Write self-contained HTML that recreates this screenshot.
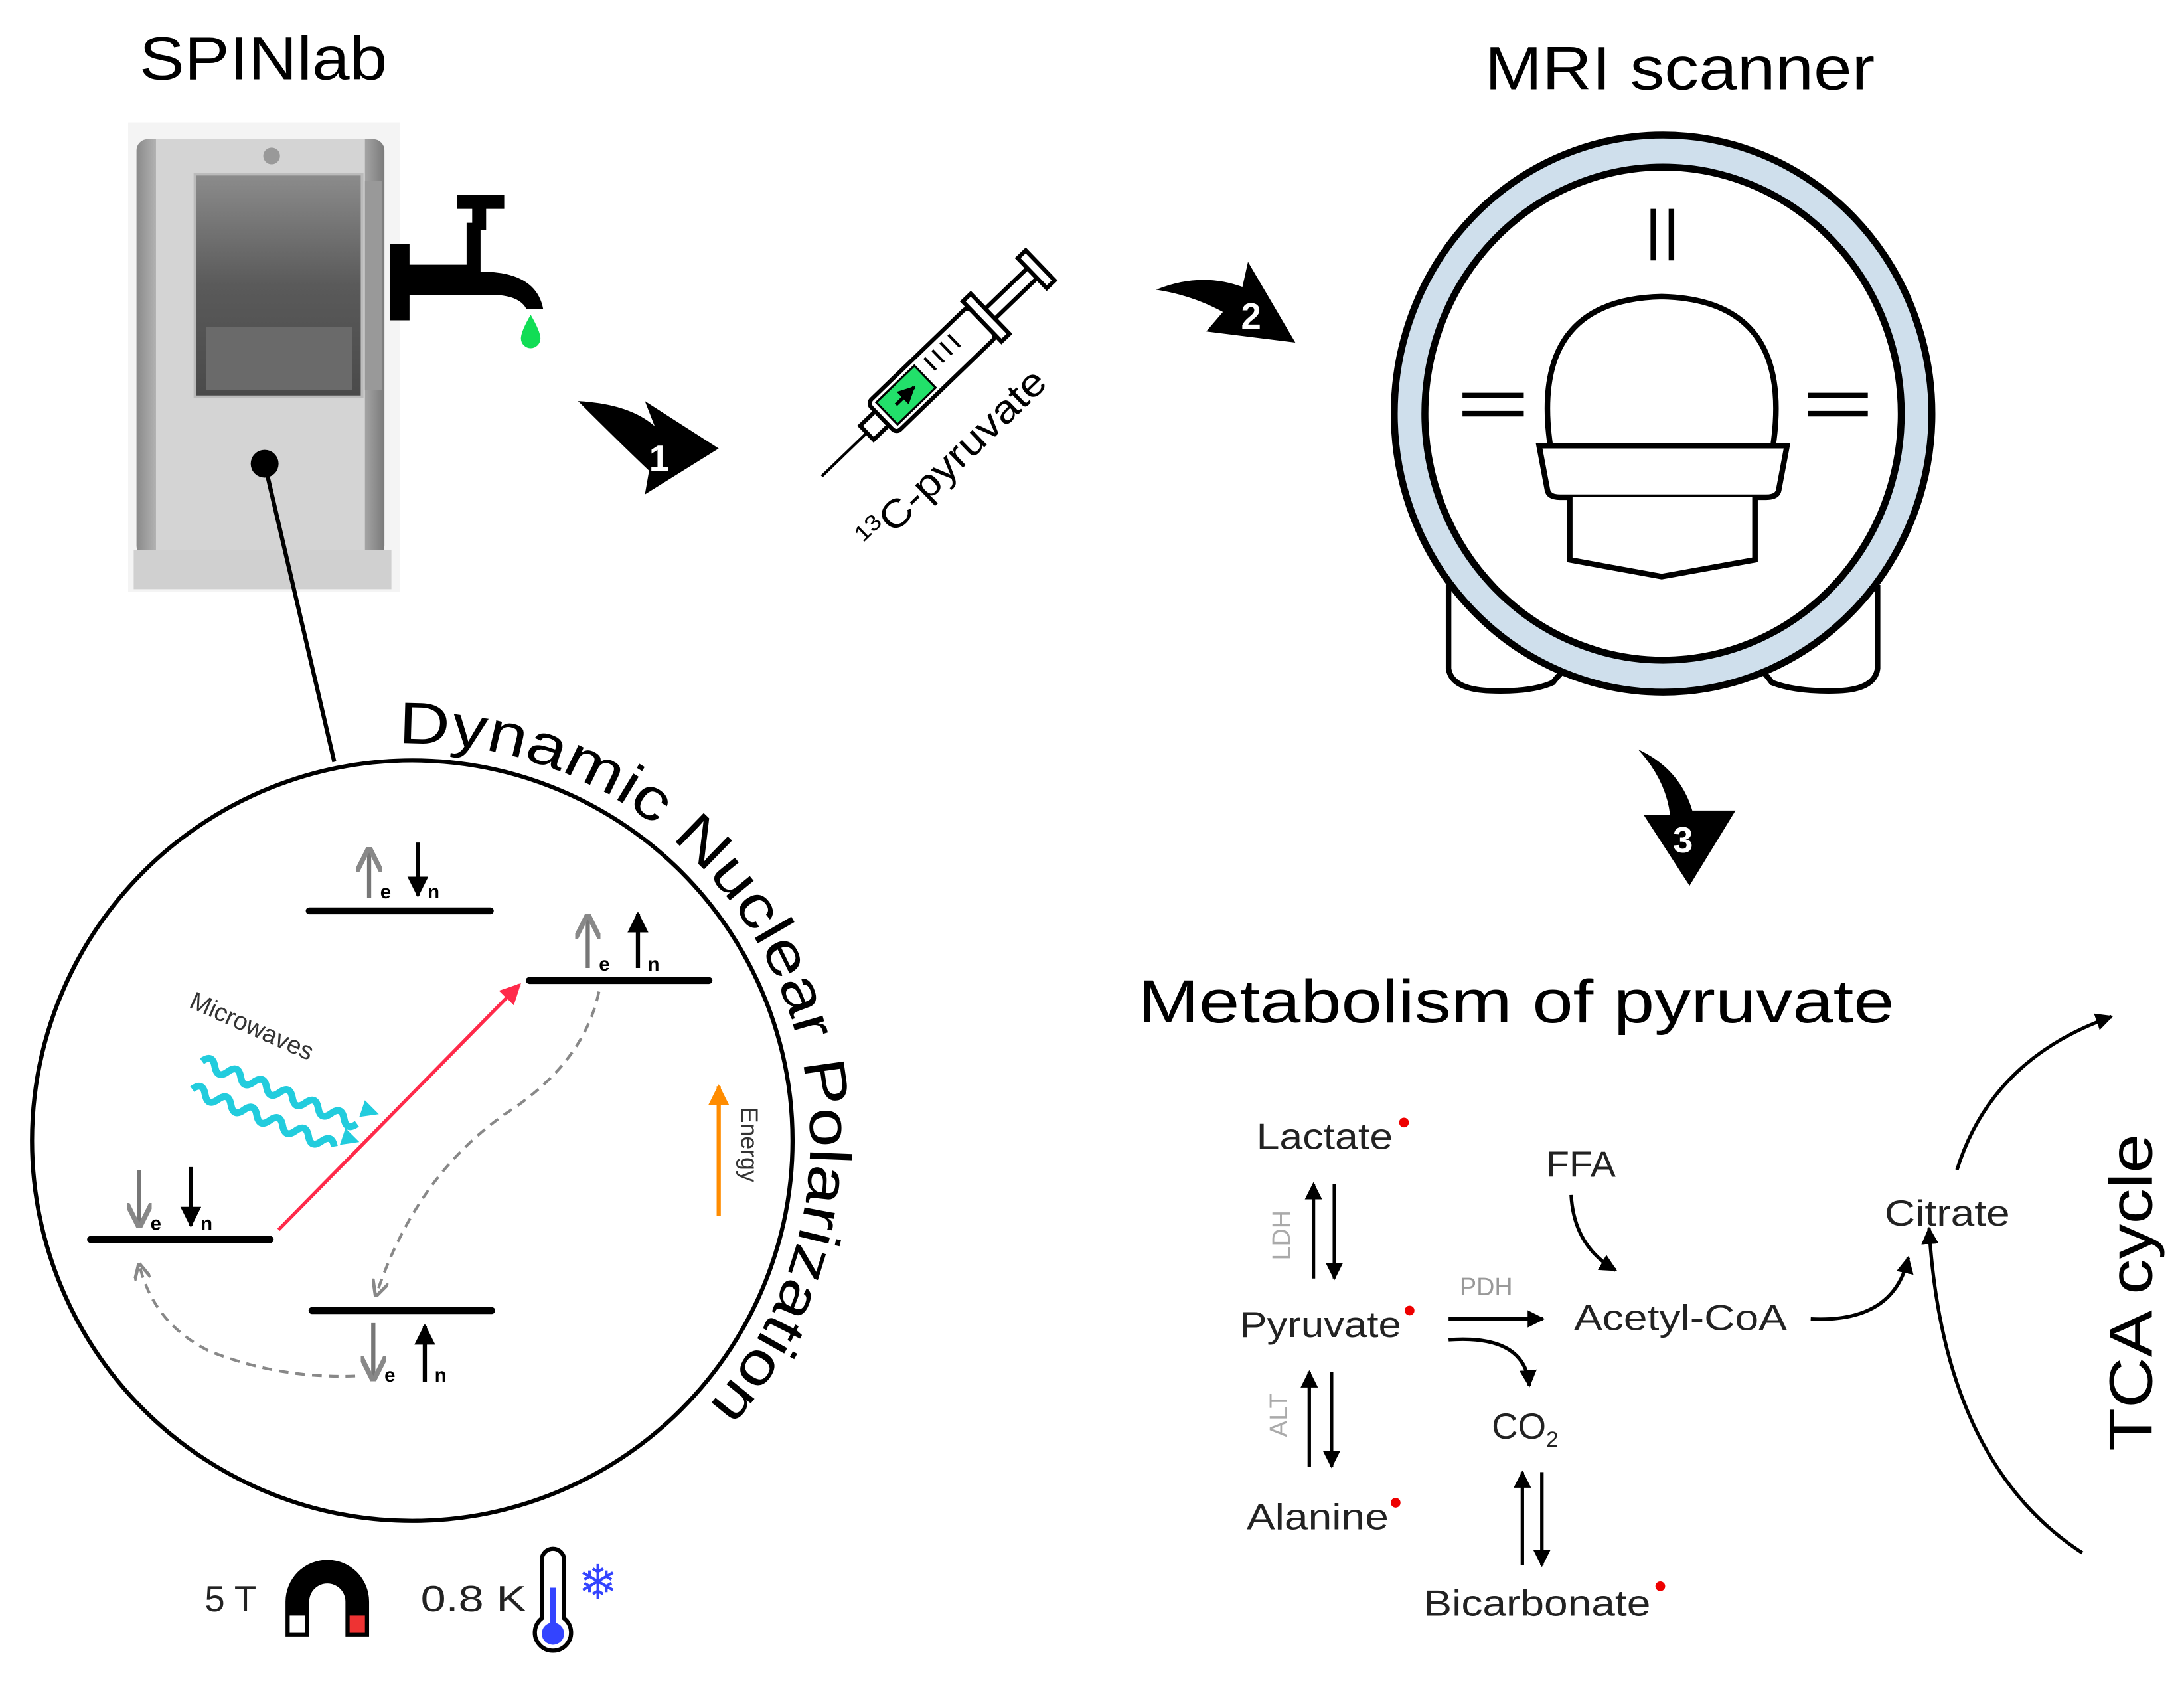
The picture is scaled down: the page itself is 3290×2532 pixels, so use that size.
<!DOCTYPE html>
<html><head><meta charset="utf-8"><style>
html,body{margin:0;padding:0;background:#fff}
svg{display:block}
text{font-family:"Liberation Sans",sans-serif}
</style></head><body>
<svg width="3290" height="2532" viewBox="0 0 1568 1207" preserveAspectRatio="none" xmlns="http://www.w3.org/2000/svg">
<defs>
<linearGradient id="cyl" x1="0" x2="1" y1="0" y2="0">
<stop offset="0" stop-color="#8a8a8a"/><stop offset="0.1" stop-color="#bdbdbd"/><stop offset="0.5" stop-color="#dcdcdc"/><stop offset="0.9" stop-color="#b0b0b0"/><stop offset="1" stop-color="#7a7a7a"/>
</linearGradient>
<linearGradient id="win" x1="0" x2="0" y1="0" y2="1">
<stop offset="0" stop-color="#8c8c8c"/><stop offset="0.5" stop-color="#5a5a5a"/><stop offset="1" stop-color="#4a4a4a"/>
</linearGradient>
<marker id="ah" viewBox="0 0 10 10" refX="9" refY="5" markerWidth="5" markerHeight="5" orient="auto"><path d="M0,0L10,5L0,10Z" fill="#000"/></marker>
<marker id="ahr" viewBox="0 0 10 10" refX="9" refY="5" markerWidth="6" markerHeight="6" orient="auto"><path d="M0,0L10,5L0,10Z" fill="#ff2a4a"/></marker>
<marker id="ahg" viewBox="0 0 10 10" refX="9" refY="5" markerWidth="6" markerHeight="6" orient="auto"><path d="M0,0L10,5L0,10" fill="none" stroke="#888" stroke-width="2"/></marker>
<marker id="aho" viewBox="0 0 10 10" refX="9" refY="5" markerWidth="5" markerHeight="5" orient="auto"><path d="M0,0L10,5L0,10Z" fill="#ff8c00"/></marker>
</defs>

<!-- SPINlab -->
<text x="100" y="57" font-size="44" textLength="178" lengthAdjust="spacingAndGlyphs">SPINlab</text>
<rect x="92" y="88" width="195" height="337" fill="#f4f4f4"/>
<rect x="98" y="100" width="178" height="300" rx="8" fill="url(#cyl)"/>
<rect x="112" y="100" width="150" height="300" fill="#d4d4d4"/>
<circle cx="195" cy="112" r="6" fill="#999"/>
<rect x="140" y="125" width="120" height="160" fill="url(#win)" stroke="#bbb" stroke-width="2"/>
<rect x="148" y="235" width="105" height="45" fill="#6a6a6a"/>
<rect x="262" y="130" width="12" height="150" fill="#999"/>
<rect x="96" y="395" width="185" height="28" fill="#d0d0d0"/>
<circle cx="190" cy="333" r="10" fill="#000"/>
<line x1="190" y1="333" x2="240" y2="547" stroke="#000" stroke-width="3"/>
<!-- faucet -->
<rect x="280" y="175" width="14" height="55" fill="#000"/>
<path d="M292,190 L335,190 L335,160 L345,160 L345,195 Q385,195 390,222 L378,222 Q372,210 345,212 L292,212 Z" fill="#000"/>
<rect x="328" y="140" width="34" height="10" fill="#000"/>
<rect x="339" y="145" width="10" height="20" fill="#000"/>
<path d="M381,226 Q388,238 388,243 A7,7 0 0 1 374,243 Q374,238 381,226Z" fill="#11dd55"/>

<!-- arrow 1 -->
<path d="M415,288 Q452,290 470,306 L463,288 L516,322 L463,355 L466,338 Q445,318 415,288 Z" fill="#000"/>
<text x="466" y="338" font-size="26" font-weight="bold" fill="#fff">1</text>

<!-- syringe -->
<g transform="translate(590,342) rotate(-44)">
<line x1="0" y1="0" x2="45" y2="0" stroke="#000" stroke-width="2"/>
<rect x="45" y="-7" width="15" height="14" fill="#fff" stroke="#000" stroke-width="3"/>
<rect x="60" y="-15" width="100" height="30" rx="4" fill="#fff" stroke="#000" stroke-width="3"/>
<rect x="65" y="-11" width="38" height="22" fill="#22e06a" stroke="#000" stroke-width="1.5"/>
<line x1="74" y1="0" x2="92" y2="0" stroke="#000" stroke-width="2.5" marker-end="url(#ah)"/>
<g stroke="#000" stroke-width="2"><line x1="112" y1="-10" x2="112" y2="2"/><line x1="120" y1="-10" x2="120" y2="2"/><line x1="128" y1="-10" x2="128" y2="2"/><line x1="136" y1="-10" x2="136" y2="2"/></g>
<rect x="160" y="-20" width="8" height="40" fill="#fff" stroke="#000" stroke-width="3"/>
<rect x="168" y="-5" width="42" height="10" fill="#fff" stroke="#000" stroke-width="3"/>
<rect x="210" y="-15" width="8" height="30" fill="#fff" stroke="#000" stroke-width="3"/>
<text x="-12" y="66" font-size="28" textLength="175" lengthAdjust="spacingAndGlyphs"><tspan font-size="16" dy="-11">13</tspan><tspan dy="11">C-pyruvate</tspan></text>
</g>

<!-- arrow 2 -->
<path d="M830,208 Q862,195 892,206 L896,188 L930,246 L866,238 L878,224 Q856,212 830,208 Z" fill="#000"/>
<text x="891" y="236" font-size="26" font-weight="bold" fill="#fff">2</text>

<!-- MRI -->
<text x="1066" y="64" font-size="44" textLength="280" lengthAdjust="spacingAndGlyphs">MRI scanner</text>
<path d="M1040,420 L1040,480 Q1042,495 1070,496 Q1100,497 1115,490 Q1130,470 1150,470 L1240,470 Q1258,470 1272,490 Q1290,497 1320,496 Q1346,495 1348,480 L1348,420" fill="#fff" stroke="#000" stroke-width="4"/>
<ellipse cx="1194" cy="297" rx="193" ry="200" fill="#cfdfec" stroke="#000" stroke-width="5"/>
<ellipse cx="1194" cy="297" rx="171" ry="177" fill="#fff" stroke="#000" stroke-width="5"/>
<g stroke="#000" stroke-width="4"><line x1="1187" y1="150" x2="1187" y2="187"/><line x1="1200" y1="150" x2="1200" y2="187"/>
<line x1="1050" y1="284" x2="1094" y2="284"/><line x1="1050" y1="297" x2="1094" y2="297"/>
<line x1="1298" y1="284" x2="1341" y2="284"/><line x1="1298" y1="297" x2="1341" y2="297"/></g>
<path d="M1113,320 Q1098,215 1193,213 Q1288,215 1273,320" fill="#fff" stroke="#000" stroke-width="4"/>
<path d="M1105,320 L1283,320 L1277,352 Q1276,357 1268,357 L1120,357 Q1112,357 1111,352 Z" fill="#fff" stroke="#000" stroke-width="4"/>
<path d="M1127,357 L1127,402 L1193,414 L1260,402 L1260,357" fill="#fff" stroke="#000" stroke-width="4"/>

<!-- arrow 3 -->
<path d="M1176,538 Q1206,552 1215,582 L1246,582 L1213,636 L1180,585 L1199,585 Q1196,560 1176,538 Z" fill="#000"/>
<text x="1201" y="612" font-size="26" font-weight="bold" fill="#fff">3</text>

<!-- DNP -->
<circle cx="296" cy="819" r="273" fill="none" stroke="#000" stroke-width="3"/>
<path id="arc" d="M 286,534 A 285,285 0 0 1 508,1010" fill="none"/>
<text font-size="42"><textPath href="#arc" textLength="667" lengthAdjust="spacingAndGlyphs">Dynamic Nuclear Polarization</textPath></text>
<g stroke="#000" stroke-width="5" stroke-linecap="round">
<line x1="222" y1="654" x2="352" y2="654"/><line x1="380" y1="704" x2="509" y2="704"/>
<line x1="65" y1="890" x2="194" y2="890"/><line x1="224" y1="941" x2="353" y2="941"/></g>
<g stroke-width="3">
<line x1="265" y1="645" x2="265" y2="610" stroke="#777" marker-end="url(#ahg)"/>
<line x1="300" y1="605" x2="300" y2="643" stroke="#000" marker-end="url(#ah)"/>
<line x1="422" y1="695" x2="422" y2="658" stroke="#777" marker-end="url(#ahg)"/>
<line x1="458" y1="695" x2="458" y2="656" stroke="#000" marker-end="url(#ah)"/>
<line x1="100" y1="840" x2="100" y2="880" stroke="#777" marker-end="url(#ahg)"/>
<line x1="137" y1="838" x2="137" y2="880" stroke="#000" marker-end="url(#ah)"/>
<line x1="268" y1="950" x2="268" y2="990" stroke="#777" marker-end="url(#ahg)"/>
<line x1="305" y1="992" x2="305" y2="952" stroke="#000" marker-end="url(#ah)"/>
</g>
<g font-size="14" font-weight="bold"><text x="273" y="645">e</text><text x="307" y="645">n</text>
<text x="430" y="697">e</text><text x="465" y="697">n</text>
<text x="108" y="883">e</text><text x="144" y="883">n</text>
<text x="276" y="992">e</text><text x="312" y="992">n</text></g>
<line x1="200" y1="883" x2="373" y2="707" stroke="#ff2a4a" stroke-width="2.5" marker-end="url(#ahr)"/>
<path d="M430,712 Q420,760 370,795 Q300,840 270,930" fill="none" stroke="#888" stroke-width="2" stroke-dasharray="7,5" marker-end="url(#ahg)"/>
<path d="M255,988 Q200,990 150,970 Q110,950 100,908" fill="none" stroke="#888" stroke-width="2" stroke-dasharray="7,5" marker-end="url(#ahg)"/>
<text x="0" y="0" font-size="18" fill="#333" transform="translate(135,723) rotate(24)">Microwaves</text>
<g fill="none" stroke="#22ccdd" stroke-width="5">
<path d="M145,762 q5,-8 10,0 q5,8 10,0 q5,-8 10,0 q5,8 10,0 q5,-8 10,0 q5,8 10,0 q5,-8 10,0 q5,8 10,0 q5,-8 10,0 q5,8 10,0 q5,-8 10,0 q5,8 10,0" transform="rotate(22 145 762)"/>
<path d="M138,782 q5,-8 10,0 q5,8 10,0 q5,-8 10,0 q5,8 10,0 q5,-8 10,0 q5,8 10,0 q5,-8 10,0 q5,8 10,0 q5,-8 10,0 q5,8 10,0 q5,-8 10,0" transform="rotate(22 138 782)"/>
</g>
<path d="M262,790 L272,800 L258,802Z M248,810 L258,820 L244,822Z" fill="#22ccdd"/>
<line x1="516" y1="873" x2="516" y2="780" stroke="#ff8c00" stroke-width="3" marker-end="url(#aho)"/>
<text font-size="17" fill="#333" transform="translate(532,795) rotate(90)">Energy</text>
<text x="147" y="1157" font-size="26" fill="#222">5 T</text>
<path d="M205,1175 L205,1150 A30,30 0 0 1 265,1150 L265,1175 L248,1175 L248,1150 A13,13 0 0 0 222,1150 L222,1175 Z" fill="#000"/>
<rect x="208" y="1160" width="11" height="12" fill="#fff"/><rect x="251" y="1160" width="11" height="12" fill="#e33"/>
<text x="302" y="1157" font-size="26" fill="#222" textLength="76" lengthAdjust="spacingAndGlyphs">0.8 K</text>
<path d="M389,1120 A8,8 0 0 1 405,1120 L405,1162 A13,13 0 1 1 389,1162 Z" fill="#fff" stroke="#000" stroke-width="3"/>
<line x1="397" y1="1140" x2="397" y2="1168" stroke="#3344ff" stroke-width="4"/><circle cx="397" cy="1173" r="8" fill="#3344ff"/>
<text x="415" y="1148" font-size="34" fill="#3344ff">❄</text>

<!-- Metabolism -->
<text x="817" y="734" font-size="44" textLength="543" lengthAdjust="spacingAndGlyphs">Metabolism of pyruvate</text>
<g font-size="26" fill="#222">
<text x="902" y="825" textLength="98" lengthAdjust="spacingAndGlyphs">Lactate</text>
<text x="890" y="960" textLength="116" lengthAdjust="spacingAndGlyphs">Pyruvate</text>
<text x="895" y="1098" textLength="102" lengthAdjust="spacingAndGlyphs">Alanine</text>
<text x="1110" y="845" textLength="50" lengthAdjust="spacingAndGlyphs">FFA</text>
<text x="1130" y="955" textLength="153" lengthAdjust="spacingAndGlyphs">Acetyl-CoA</text>
<text x="1071" y="1033">CO<tspan font-size="16" dy="6">2</tspan></text>
<text x="1022" y="1160" textLength="163" lengthAdjust="spacingAndGlyphs">Bicarbonate</text>
<text x="1353" y="880" textLength="90" lengthAdjust="spacingAndGlyphs">Citrate</text>
</g>
<g fill="#e00"><circle cx="1008" cy="806" r="3.5"/><circle cx="1012" cy="941" r="3.5"/><circle cx="1002" cy="1079" r="3.5"/><circle cx="1192" cy="1139" r="3.5"/></g>
<text x="1048" y="930" font-size="18" fill="#999">PDH</text>
<text font-size="18" fill="#aaa" transform="translate(926,905) rotate(-90)">LDH</text>
<text font-size="18" fill="#aaa" transform="translate(924,1032) rotate(-90)">ALT</text>
<g stroke="#000" stroke-width="2.5" fill="none" marker-end="url(#ah)">
<line x1="943" y1="918" x2="943" y2="850"/><line x1="958" y1="850" x2="958" y2="918"/>
<line x1="940" y1="1053" x2="940" y2="985"/><line x1="956" y1="985" x2="956" y2="1053"/>
<line x1="1093" y1="1124" x2="1093" y2="1057"/><line x1="1107" y1="1057" x2="1107" y2="1124"/>
<line x1="1040" y1="947" x2="1108" y2="947"/>
<path d="M1040,962 Q1095,958 1098,995"/>
<path d="M1128,858 Q1130,895 1160,912"/>
<path d="M1300,947 Q1360,950 1370,903"/>
<path d="M1495,1115 Q1395,1050 1385,882"/>
<path d="M1405,840 Q1430,760 1516,730"/>
</g>
<text font-size="44" transform="translate(1545,1042) rotate(-90)" textLength="228" lengthAdjust="spacingAndGlyphs">TCA cycle</text>
</svg>
</body></html>
